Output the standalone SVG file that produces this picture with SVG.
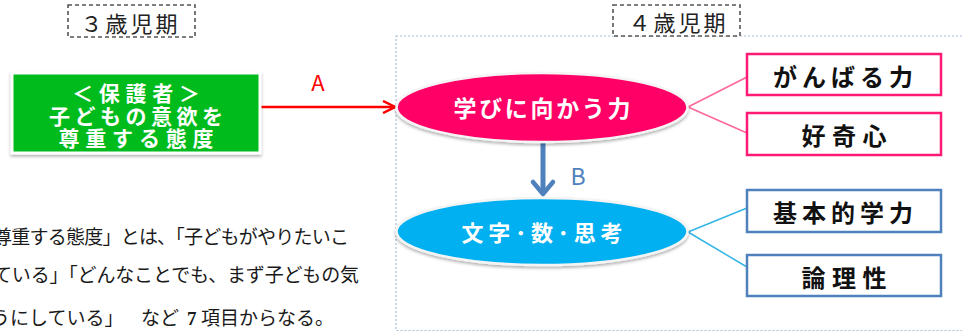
<svg xmlns="http://www.w3.org/2000/svg" width="962" height="332" viewBox="0 0 962 332">
<style>
.jp{font-family:"Noto Sans CJK JP","Noto Sans",sans-serif;}
.ser{font-family:"Liberation Serif","Noto Sans CJK JP",serif;font-size:19px;fill:#1a1a1a;}
.lbl{font-weight:bold;text-anchor:middle;dominant-baseline:central;}
.period{font-size:22px;fill:#222;text-anchor:middle;dominant-baseline:central;}
.dash{fill:#fff;stroke:#555;stroke-width:1.6;stroke-dasharray:4 3;}
.pbox{fill:#fff;stroke:#ff1a75;stroke-width:2.5;}
.bbox{fill:#fff;stroke:#4f81bd;stroke-width:2.5;}
.boxtxt{fill:#111;font-size:24px;}
</style>
<defs>
<filter id="sh" x="-10%" y="-20%" width="120%" height="150%">
<feDropShadow dx="0" dy="2" stdDeviation="1.5" flood-color="#000" flood-opacity="0.3"/>
</filter>
<marker id="ahA" markerWidth="14" markerHeight="14" refX="13" refY="7" orient="auto" markerUnits="userSpaceOnUse">
<path d="M1,1 L13,7 L1,13" fill="none" stroke="#ff0000" stroke-width="2.5"/>
</marker>
</defs>

<rect id="container" x="396" y="36" width="580" height="294.5" fill="none" stroke="#a9bdd6" stroke-width="1.2" stroke-dasharray="2 2"/>

<g id="period3">
<rect class="dash" x="68" y="5" width="127" height="32"/>
<text class="jp period" x="129" y="22" textLength="97" lengthAdjust="spacing">３歳児期</text>
</g>
<g id="period4">
<rect class="dash" x="613" y="5" width="127" height="31"/>
<text class="jp period" x="677" y="21" textLength="97" lengthAdjust="spacing">４歳児期</text>
</g>

<g id="connectors">
<line x1="261" y1="107" x2="395" y2="107" stroke="#ff0000" stroke-width="2.5" marker-end="url(#ahA)"/>
<text class="jp" x="318" y="91" font-size="22" fill="#ff0000" text-anchor="middle">A</text>
<line x1="543" y1="143" x2="543" y2="193" stroke="#4f81bd" stroke-width="5"/>
<path d="M533,182 L543,194 L553,182" fill="none" stroke="#4f81bd" stroke-width="4.5" stroke-linejoin="round" stroke-linecap="round"/>
<text class="jp" x="578" y="185" font-size="23" fill="#4f81bd" text-anchor="middle">B</text>
<g stroke="#ff6699" stroke-width="1.5" fill="none">
<line x1="688" y1="107" x2="747" y2="77"/>
<line x1="688" y1="107" x2="747" y2="133"/>
</g>
<g stroke="#33b5e5" stroke-width="1.5" fill="none">
<line x1="688" y1="232" x2="747" y2="208"/>
<line x1="688" y1="232" x2="747" y2="267"/>
</g>
</g>

<g id="parent">
<rect x="12" y="73" width="248" height="80" fill="#00bb1e" stroke="#ffffff" stroke-width="3" filter="url(#sh)"/>
<g class="jp" fill="#fff" font-size="21" font-weight="bold" text-anchor="middle" dominant-baseline="central">
<text x="136" y="92" textLength="128" lengthAdjust="spacing">＜保護者＞</text>
<text x="136" y="115" textLength="174" lengthAdjust="spacing">子どもの意欲を</text>
<text x="136" y="137" textLength="155" lengthAdjust="spacing">尊重する態度</text>
</g>
</g>

<g id="manabi">
<ellipse cx="542" cy="107.5" rx="145.5" ry="34.5" fill="#ff0066" stroke="#f4f4f4" stroke-width="2.5" filter="url(#sh)"/>
<text class="jp lbl" x="542" y="107" font-size="23" fill="#fff" textLength="177" lengthAdjust="spacing">学びに向かう力</text>
</g>
<g id="moji">
<ellipse cx="542" cy="231.5" rx="145.5" ry="33.5" fill="#00b0f0" stroke="#f4f4f4" stroke-width="2.5" filter="url(#sh)"/>
<text class="jp lbl" x="542" y="231" font-size="22" fill="#fff" textLength="161" lengthAdjust="spacing">文字･数･思考</text>
</g>

<g id="ganbaru">
<rect class="pbox" x="747" y="54" width="194" height="41"/>
<text class="jp lbl boxtxt" x="843" y="75" textLength="140" lengthAdjust="spacing">がんばる力</text>
</g>
<g id="koukishin">
<rect class="pbox" x="747" y="113" width="194" height="42"/>
<text class="jp lbl boxtxt" x="844" y="134" textLength="85" lengthAdjust="spacing">好奇心</text>
</g>
<g id="kihon">
<rect class="bbox" x="747" y="190" width="194" height="42"/>
<text class="jp lbl boxtxt" x="843" y="211" textLength="140" lengthAdjust="spacing">基本的学力</text>
</g>
<g id="ronri">
<rect class="bbox" x="747" y="255" width="194" height="41"/>
<text class="jp lbl boxtxt" x="844" y="276" textLength="85" lengthAdjust="spacing">論理性</text>
</g>

<g id="bodytext" dominant-baseline="central">
<text class="ser" x="-7" y="237.5" textLength="356" lengthAdjust="spacing">尊重する態度」とは、「子どもがやりたいこ</text>
<text class="ser" x="-7" y="275" textLength="366" lengthAdjust="spacing">ている」「どんなことでも、まず子どもの気</text>
<text class="ser" y="317.5"><tspan x="-9">うにしている」</tspan><tspan x="141">など</tspan><tspan x="187" font-weight="bold">7</tspan><tspan x="201">項目からなる。</tspan></text>
</g>
</svg>
